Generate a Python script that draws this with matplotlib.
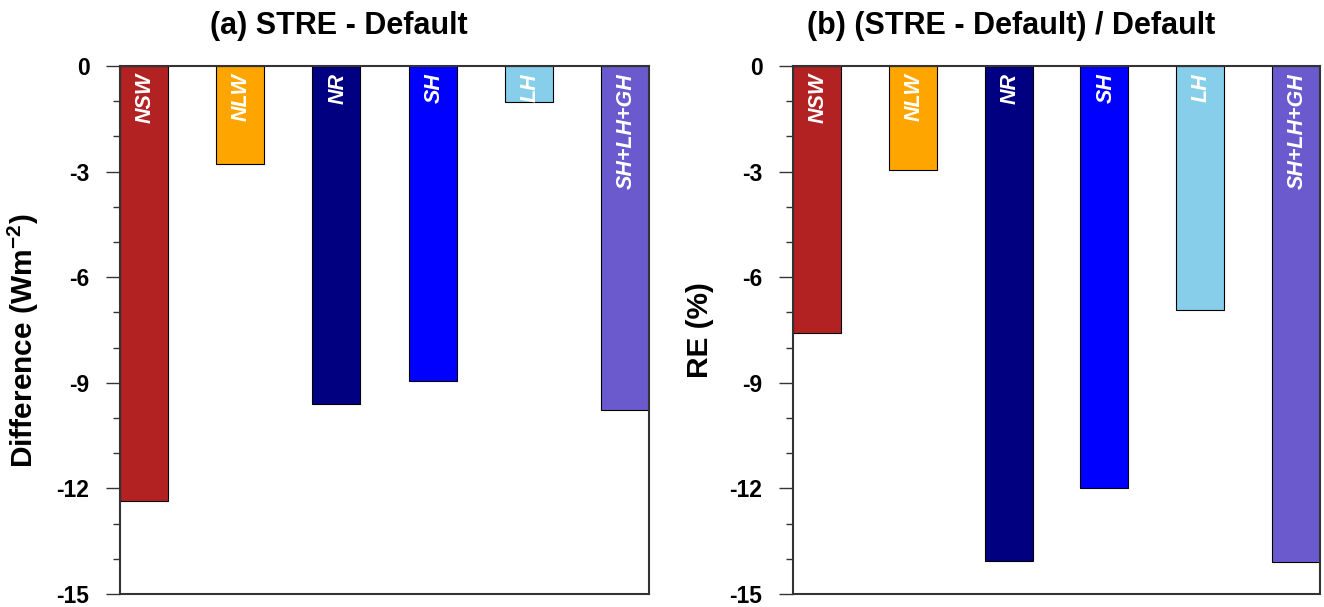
import matplotlib
matplotlib.use("Agg")
import matplotlib.pyplot as plt
import numpy as np

plt.rcParams["font.family"] = ["Liberation Sans", "DejaVu Sans"]
plt.rcParams["mathtext.fontset"] = "custom"
plt.rcParams["mathtext.rm"] = "Liberation Sans:bold"
plt.rcParams["mathtext.default"] = "rm"

terms = ["NSW", "NLW", "NR", "SH", "LH", "SH+LH+GH"]
colors = ["firebrick", "orange", "navy", "blue", "skyblue", "slateblue"]

# surface energy terms, STRE minus Default
diff_values = [-12.37, -2.79, -9.59, -8.96, -1.01, -9.76]
# relative error (%)
re_values = [-7.59, -2.96, -14.05, -12.0, -6.93, -14.08]

titles = ["(a) STRE - Default", "(b) (STRE - Default) / Default"]
ylabels = ["Difference (Wm$^{-2}$)", "RE (%)"]
yticks = [0, -3, -6, -9, -12, -15]

fig = plt.figure(figsize=(13.24, 6.07), dpi=100)
ax_a = fig.add_axes([120 / 1324, 13 / 607, 529 / 1324, 528 / 607])
ax_b = fig.add_axes([793 / 1324, 13 / 607, 527 / 1324, 528 / 607])

x = np.arange(1, len(terms) + 1)
panels = [(ax_a, diff_values, 0.479), (ax_b, re_values, 0.5)]
for (ax, vals, ylab_y), title, ylab in zip(panels, titles, ylabels):
    ax.bar(x, vals, width=0.5, color=colors, edgecolor="black", linewidth=0.8)
    for xi, name in zip(x, terms):
        ax.annotate(name, xy=(xi, 0), xytext=(1, -5), textcoords="offset points",
                    rotation=90, ha="center", va="top", color="white",
                    fontsize=15.5, fontweight="bold", fontstyle="italic")

    ax.set_xlim(0.75, 6.25)
    ax.set_ylim(-15, 0)
    ax.set_xticks([])
    ax.set_yticks(yticks)
    ax.set_yticklabels([str(t) for t in yticks], fontsize=16.5, fontweight="bold")
    ax.set_yticks(np.arange(-15, 1, 1), minor=True)
    ax.tick_params(axis="y", which="major", direction="out", length=10, width=1,
                   pad=12, color="#333333")
    ax.tick_params(axis="y", which="minor", direction="out", length=5, width=1,
                   color="#333333")
    for sp in ax.spines.values():
        sp.set_linewidth(1.5)
        sp.set_color("#333333")

    # titles sit over the whole panel, ylabel included
    ax.set_title(title, fontsize=22, fontweight="bold", pad=23, x=0.414)
    ax.set_ylabel(ylab, fontsize=21.5, fontweight="bold")
    ax.yaxis.set_label_coords(-0.149, ylab_y)

fig.savefig("out.png", dpi=100)
